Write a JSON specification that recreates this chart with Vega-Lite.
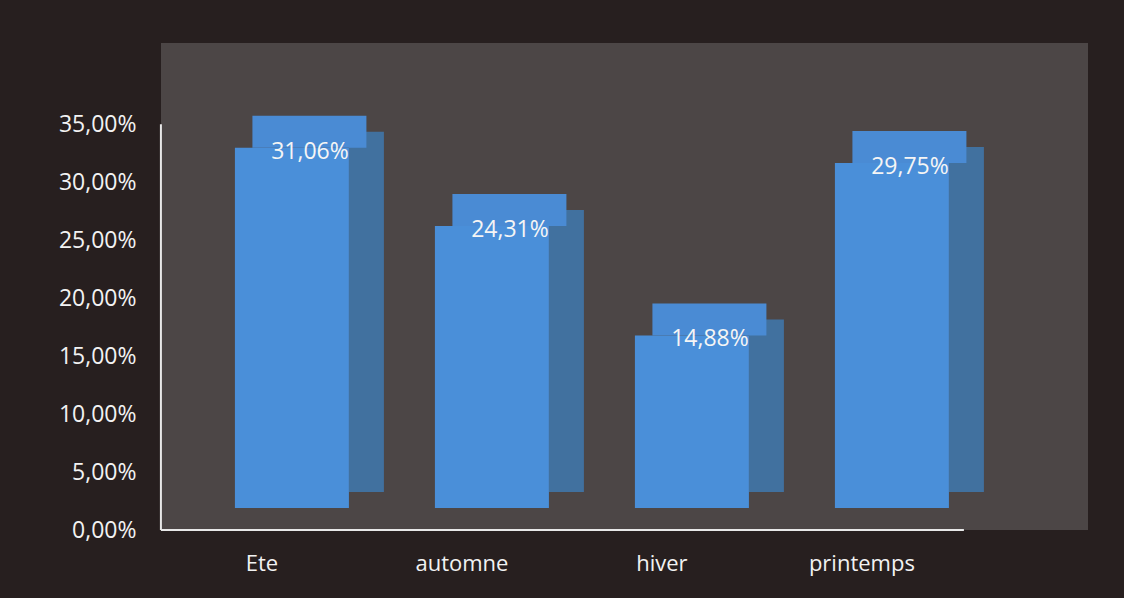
{
  "$schema": "https://vega.github.io/schema/vega-lite/v6.json",
  "autosize": {"type": "none"},
  "width": 927,
  "height": 487,
  "padding": {"left": 161, "top": 43, "right": 36, "bottom": 68},
  "background": "#271f1f",
  "config": {
    "font": "Open Sans",
    "view": {"fill": "#4c4646", "stroke": null},
    "locale": {"number": {"decimal": ",", "thousands": " ", "grouping": [3], "currency": ["", " €"], "percent": "%"}}
  },
  "data": {"values": [
    {"saison": "Ete", "part": 0.3106},
    {"saison": "automne", "part": 0.2431},
    {"saison": "hiver", "part": 0.1488},
    {"saison": "printemps", "part": 0.2975}
  ]},
  "encoding": {
    "x": {"field": "saison", "type": "nominal", "sort": null,
      "scale": {"paddingInner": 0.43, "paddingOuter": 0.5325, "align": 0.347},
      "axis": {"title": null, "domain": false, "ticks": false, "labelAngle": 0, "labelOffset": -30, "labelPadding": 23,
        "labelColor": "#f2f2f2", "labelFont": "Open Sans", "labelFontSize": 22}},
    "y": {"field": "part", "type": "quantitative",
      "scale": {"domain": [0, 0.42], "nice": false, "zero": true},
      "axis": {"title": null, "domain": false, "ticks": false, "grid": false, "format": ".2%",
        "values": [0, 0.05, 0.1, 0.15, 0.2, 0.25, 0.3, 0.35], "labelPadding": 25,
        "labelColor": "#f2f2f2", "labelFont": "Open Sans", "labelFontSize": 23}}
  },
  "layer": [
    {"mark": {"type": "bar", "color": "#41719f", "opacity": 1, "width": 35, "xOffset": 74.5, "yOffset": -38, "y2Offset": -38}},
    {"mark": {"type": "tick", "color": "#4a8bd4", "opacity": 1, "size": 114, "thickness": 32, "xOffset": 17.5, "yOffset": -38}},
    {"mark": {"type": "bar", "color": "#4a8fd9", "opacity": 1, "yOffset": -22, "y2Offset": -22}},
    {"mark": {"type": "text", "color": "#f5f5f5", "font": "Open Sans", "fontSize": 23, "baseline": "middle", "dx": 18, "dy": -18},
     "encoding": {"text": {"field": "part", "type": "quantitative", "format": ".2%"}}},
    {"data": {"values": [{"a": "Ete", "b": "printemps", "z": 0, "t": 0.35}]},
     "mark": {"type": "rule", "color": "#e8e8e8", "strokeWidth": 2, "xOffset": -74, "x2Offset": 15},
     "encoding": {"x": {"field": "a", "type": "nominal", "bandPosition": 0}, "x2": {"field": "b", "bandPosition": 1}, "y": {"field": "z", "type": "quantitative"}}},
    {"data": {"values": [{"a": "Ete", "z": 0, "t": 0.35}]},
     "mark": {"type": "rule", "color": "#e8e8e8", "strokeWidth": 2, "xOffset": -74},
     "encoding": {"x": {"field": "a", "type": "nominal", "bandPosition": 0}, "y": {"field": "z", "type": "quantitative"}, "y2": {"field": "t"}}}
  ]
}
